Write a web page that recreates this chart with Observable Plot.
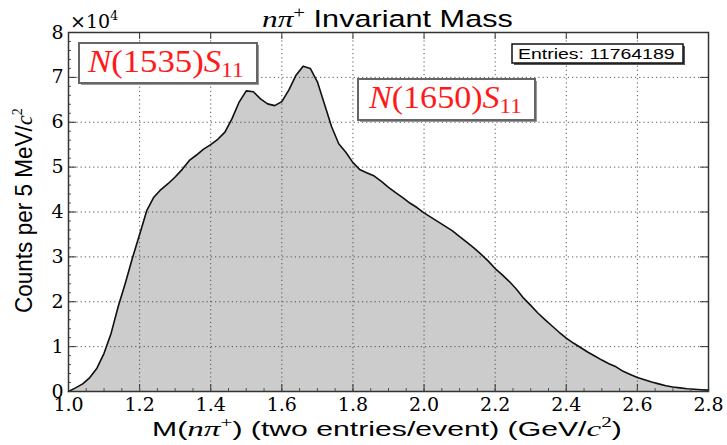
<!DOCTYPE html>
<html>
<head>
<meta charset="utf-8">
<script src="https://cdn.jsdelivr.net/npm/d3@7"></script>
<script src="https://cdn.jsdelivr.net/npm/@observablehq/plot@0.6"></script>
<style>
  html, body { margin: 0; padding: 0; background: #fff; }
</style>
</head>
<body>
<div id="chart"></div>
<script>
// Bin centres (GeV/c^2), read at 0.02 GeV spacing
const mass = [
  1.00,1.02,1.04,1.06,1.08,1.10,1.12,1.14,1.16,1.18,
  1.20,1.22,1.24,1.26,1.28,1.30,1.32,1.34,1.36,1.38,
  1.40,1.42,1.44,1.46,1.48,1.50,1.52,1.54,1.56,1.58,
  1.60,1.62,1.64,1.66,1.68,1.70,1.72,1.74,1.76,1.78,
  1.80,1.82,1.84,1.86,1.88,1.90,1.92,1.94,1.96,1.98,
  2.00,2.02,2.04,2.06,2.08,2.10,2.12,2.14,2.16,2.18,
  2.20,2.22,2.24,2.26,2.28,2.30,2.32,2.34,2.36,2.38,
  2.40,2.42,2.44,2.46,2.48,2.50,2.52,2.54,2.56,2.58,
  2.60,2.62,2.64,2.66,2.68,2.70,2.72,2.74,2.76,2.78,2.80
];
// Counts per 5 MeV/c^2
const counts = [
  0,800,1700,3100,5200,8500,13000,19000,24200,29800,
  35000,40300,43300,45000,46300,47800,49500,51500,52700,54000,
  55000,56200,57800,60800,64500,67000,66800,65200,64100,63700,
  64600,67200,70500,72500,72000,69000,64000,59000,55200,53300,
  51000,49400,48700,48000,46800,45500,44300,43200,42000,41000,
  39800,38800,37800,36800,35800,34500,33300,32000,30600,29100,
  27400,26000,24500,22800,20800,19200,17500,16000,14600,13200,
  11900,10800,9800,8800,7900,7000,6200,5500,4500,3800,
  3100,2600,2100,1700,1300,1000,800,600,500,400,300
];
const xTicks = [1.0,1.2,1.4,1.6,1.8,2.0,2.2,2.4,2.6,2.8];
const yTicks = [0,10000,20000,30000,40000,50000,60000,70000,80000];
const xMinor = d3.range(1.0, 2.8001, 0.05);
const yMinor = d3.range(0, 80001, 2000);

const data = mass.map((m, i) => ({m, c: counts[i]}));

const W = 727, H = 445, ML = 68, MR = 19, MT = 32, MB = 54;
const IW = W - ML - MR, IH = H - MT - MB;
const serif = "'DejaVu Serif', 'Liberation Serif', serif";
const tserif = "'Liberation Serif', 'DejaVu Serif', serif";
const sans = "'Liberation Sans', Arial, sans-serif";

const plot = Plot.plot({
  width: W, height: H,
  marginLeft: ML, marginRight: MR, marginTop: MT, marginBottom: MB,
  x: {domain: [1.0, 2.8]},
  y: {domain: [0, 80000]},
  style: {fontFamily: serif, fontSize: "19px", color: "#000", background: "#fff"},
  marks: [
    Plot.areaY(data, {x: "m", y: "c", fill: "#cccccc"}),
    Plot.gridX(xTicks.slice(1, -1), {stroke: "#444", strokeOpacity: 0.9, strokeDasharray: "1.2,3", strokeWidth: 1}),
    Plot.gridY(yTicks.slice(1, -1), {stroke: "#444", strokeOpacity: 0.9, strokeDasharray: "1.2,3", strokeWidth: 1}),
    Plot.lineY(data, {x: "m", y: "c", stroke: "#111", strokeWidth: 1.6}),
    // inward major ticks
    Plot.tickX(xTicks, {x: d => d, insetTop: IH - 7, stroke: "#333"}),
    Plot.tickX(xTicks, {x: d => d, insetBottom: IH - 7, stroke: "#333"}),
    Plot.tickY(yTicks, {y: d => d, insetRight: IW - 8, stroke: "#333"}),
    Plot.tickY(yTicks, {y: d => d, insetLeft: IW - 8, stroke: "#333"}),
    // inward minor ticks
    Plot.tickX(xMinor, {x: d => d, insetTop: IH - 3, stroke: "#555"}),
    Plot.tickY(yMinor, {y: d => d, insetRight: IW - 3, stroke: "#555"}),
    Plot.frame({stroke: "#333", strokeWidth: 1.5}),
    Plot.axisX(xTicks, {tickSize: 0, tickPadding: 6, tickFormat: d => d.toFixed(1), label: null,
      fontFamily: serif, fontSize: 19}),
    Plot.axisY(yTicks, {tickSize: 0, tickPadding: 5, tickFormat: d => String(d / 10000), label: null,
      fontFamily: serif, fontSize: 19})
  ]
});
document.getElementById("chart").appendChild(plot);

const svg = d3.select(plot);
const layer = svg.append("g").attr("text-anchor", "start");

// place a text so that its advance spans [x0, x0+width] horizontally, baseline at y
function fitText(t, x0, y, width) {
  const w = t.node().getBBox().width;
  t.attr("transform", `translate(${x0},${y}) scale(${width / w},1)`);
}

// ×10^4 multiplier
const mult = layer.append("text").attr("x", 70).attr("y", 28).attr("text-anchor", "start")
  .attr("font-family", serif).attr("font-size", 19).attr("fill", "#000");
mult.append("tspan").text("×10");
mult.append("tspan").attr("font-size", 13).attr("dy", -8).text("4");

// Title
const title = layer.append("text").attr("text-anchor", "start").attr("fill", "#000");
title.append("tspan").attr("font-family", tserif).attr("font-style", "italic").attr("font-size", 24).text("nπ");
title.append("tspan").attr("font-family", tserif).attr("font-size", 16).attr("dy", -9).text("+");
title.append("tspan").attr("font-family", sans).attr("font-size", 23.5).attr("dy", 9).text(" Invariant Mass");
fitText(title, 262, 27, 251);

// Y label (rotated)
const ylab = layer.append("text").attr("text-anchor", "start").attr("fill", "#000")
  .attr("font-family", sans).attr("font-size", 24);
ylab.append("tspan").text("Counts per 5 MeV/");
ylab.append("tspan").attr("font-family", tserif).attr("font-style", "italic").text("c");
ylab.append("tspan").attr("font-family", tserif).attr("font-size", 15).attr("dy", -10).text("2");
{
  const w = ylab.node().getBBox().width;
  ylab.attr("transform", `translate(32,313) rotate(-90) scale(${205 / w},1)`);
}

// X label
const xlab = layer.append("text").attr("text-anchor", "start").attr("fill", "#000")
  .attr("font-family", sans).attr("font-size", 20);
xlab.append("tspan").text("M(");
xlab.append("tspan").attr("font-family", tserif).attr("font-style", "italic").attr("font-size", 22).text("nπ");
xlab.append("tspan").attr("font-family", tserif).attr("font-size", 14).attr("dy", -9).text("+");
xlab.append("tspan").attr("dy", 9).text(") (two entries/event) (GeV/");
xlab.append("tspan").attr("font-family", tserif).attr("font-style", "italic").attr("font-size", 22).text("c");
xlab.append("tspan").attr("font-family", tserif).attr("font-size", 14).attr("dy", -9).text("2");
xlab.append("tspan").attr("dy", 9).text(")");
fitText(xlab, 152, 436, 470);

// Entries box
layer.append("rect").attr("x", 514).attr("y", 46).attr("width", 171).attr("height", 19).attr("fill", "#555");
layer.append("rect").attr("x", 512).attr("y", 44).attr("width", 171).attr("height", 19)
  .attr("fill", "#fff").attr("stroke", "#111").attr("stroke-width", 1.5);
const ent = layer.append("text").attr("text-anchor", "start").attr("font-family", sans)
  .attr("font-size", 14).attr("fill", "#000").text("Entries: 11764189");
fitText(ent, 518, 59, 157);

// Resonance labels
function resLabel(x, y, w, h, digits, tx, tw, base) {
  layer.append("rect").attr("x", x + 2).attr("y", y + 2).attr("width", w).attr("height", h).attr("fill", "#999");
  layer.append("rect").attr("x", x).attr("y", y).attr("width", w).attr("height", h)
    .attr("fill", "#fff").attr("stroke", "#666").attr("stroke-width", 2);
  const t = layer.append("text").attr("text-anchor", "start").attr("font-family", tserif)
    .attr("font-size", 31).attr("fill", "#ff1a1a");
  t.append("tspan").attr("font-style", "italic").text("N");
  t.append("tspan").text(`(${digits})`);
  t.append("tspan").attr("font-style", "italic").text("S");
  t.append("tspan").attr("font-size", 21).attr("dy", 5).text("11");
  fitText(t, tx, base, tw);
}
resLabel(79, 43, 178, 40, "1535", 88, 157, 72);
resLabel(358, 79, 177, 41, "1650", 369, 154, 108);
</script>
</body>
</html>
